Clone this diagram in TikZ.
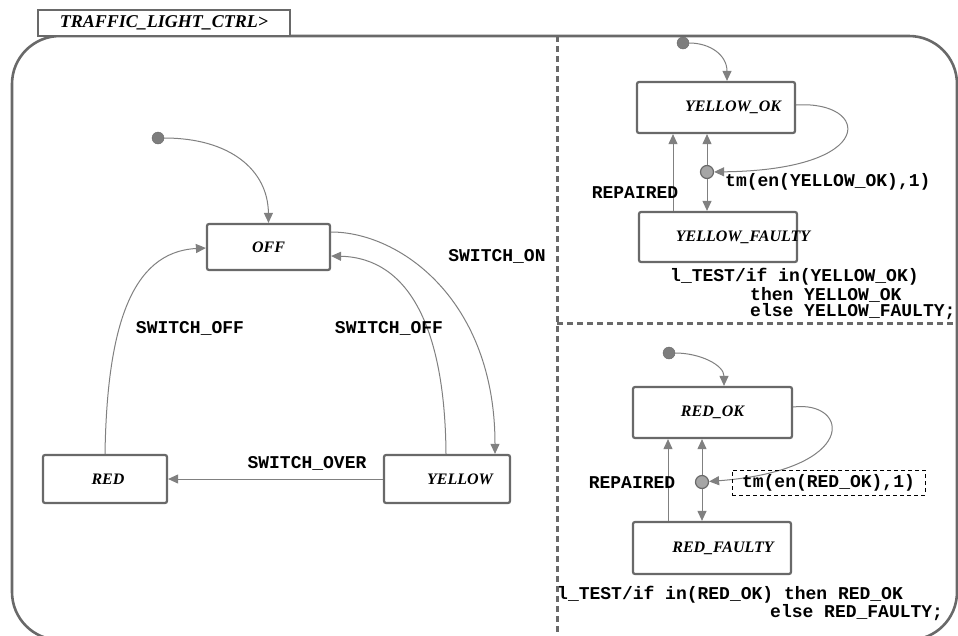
\documentclass[tikz,border=0pt]{standalone}
\usepackage{fontspec}
\usetikzlibrary{arrows.meta}
\newfontfamily\stfont{Liberation Serif}
\newfontfamily\lblfont{Liberation Mono}
\definecolor{framegray}{RGB}{105,105,105}
\definecolor{linegray}{RGB}{128,128,128}
\definecolor{dotgray}{RGB}{125,125,125}
\definecolor{condgray}{RGB}{165,165,165}
\begin{document}
\begin{tikzpicture}[x=1pt,y=-1pt,
  stbox/.style={draw=framegray, line width=2.2pt, rounded corners=2pt, fill=white, inner sep=0pt},
  sttext/.style={font=\stfont\bfseries\itshape\fontsize{16}{18}\selectfont, text=black, inner sep=0pt},
  lbl/.style={font=\lblfont\bfseries\fontsize{18}{20}\selectfont, text=black, inner sep=0pt},
  conn/.style={draw=linegray, line width=1pt, -{Triangle[length=10pt,width=9pt]}},
  initdot/.style={circle, fill=dotgray, draw=framegray, minimum size=12pt, inner sep=0pt},
  conddot/.style={circle, fill=condgray, draw=framegray, line width=1.2pt, minimum size=13pt, inner sep=0pt},
  sep/.style={draw=framegray, line width=3pt, dash pattern=on 6pt off 4pt},
]
\useasboundingbox (0,0) rectangle (958,635);
\clip (0,0) rectangle (958,635);
\fill[white] (0,0) rectangle (958,635);

% outer frame and separators
\draw[framegray, line width=2.6pt, rounded corners=48pt] (12,36) rectangle (957,640);
\draw[sep] (557,36) -- (557,640);
\draw[sep] (557,323) -- (958,323);

% tab
\node[draw=framegray, line width=2.2pt, fill=white, minimum width=252pt, minimum height=26pt, inner sep=0pt,
      font=\stfont\bfseries\itshape\fontsize{18}{20}\selectfont] (tab) at (164,23) {TRAFFIC\_LIGHT\_CTRL>};

% left states
\node[stbox, minimum width=123pt, minimum height=46pt, label={[sttext]center:OFF}] (off) at (268.5,247) {};
\node[stbox, minimum width=124pt, minimum height=48pt, label={[sttext,xshift=3pt]center:RED}] (red) at (105,479) {};
\node[stbox, minimum width=126pt, minimum height=48pt, label={[sttext,xshift=13pt]center:YELLOW}] (yel) at (447,479) {};

% right states
\node[stbox, minimum width=158pt, minimum height=51pt, label={[sttext,xshift=17pt]center:YELLOW\_OK}] (yok) at (716,107.5) {};
\node[stbox, minimum width=158pt, minimum height=50pt, label={[sttext,xshift=25pt]center:YELLOW\_FAULTY}] (yfa) at (718,237) {};
\node[stbox, minimum width=159pt, minimum height=51pt, label={[sttext]center:RED\_OK}] (rok) at (712.5,412.5) {};
\node[stbox, minimum width=158pt, minimum height=52pt, label={[sttext,xshift=11pt]center:RED\_FAULTY}] (rfa) at (712,548) {};

% pseudo states
\node[initdot] (i0) at (158,138) {};
\node[initdot] (i1) at (683,43) {};
\node[initdot] (i2) at (669,353) {};
\node[conddot] (yc) at (707,172) {};
\node[conddot] (rc) at (702,482) {};

% left transitions
\draw[conn] (i0) .. controls (230,138) and (268,170) .. (off.north);
\draw[conn] (red.north) .. controls (107,330) and (130,252) .. ([yshift=-1pt]off.west);
\draw[conn] ([xshift=-1pt]yel.north) .. controls (445,330) and (410,258) .. ([yshift=-9pt]off.east);
\draw[conn] ([yshift=15pt]off.east) .. controls (400,232) and (495,300) .. ([xshift=48pt]yel.north);
\draw[conn] (yel.west) -- (red.east);

% yellow region transitions
\draw[conn] (i1) .. controls (710,43) and (727,55) .. ([xshift=11pt]yok.north);
\draw[conn] (yc) -- ([xshift=-9pt]yok.south);
\draw[conn] (yc) -- ([xshift=-11pt]yfa.north);
\draw[conn] ([xshift=-45pt]yfa.north) -- ([xshift=-43pt]yok.south);
\draw[conn] ([yshift=2.5pt]yok.east) .. controls (870,100) and (880,170) .. (yc);

% red region transitions
\draw[conn] (i2) .. controls (700,353) and (724,365) .. ([xshift=11.5pt]rok.north);
\draw[conn] (rc) -- ([xshift=-10.5pt]rok.south);
\draw[conn] (rc) -- ([xshift=-10pt]rfa.north);
\draw[conn] ([xshift=-44pt]rfa.north) -- ([xshift=-44.5pt]rok.south);
\draw[conn] ([yshift=5.5pt]rok.east) .. controls (850,400) and (860,470) .. (rc);

% labels
\node[lbl] (lso1) at (190,328) {SWITCH\_OFF};
\node[lbl] (lso2) at (389,328) {SWITCH\_OFF};
\node[lbl] (lson) at (497,256) {SWITCH\_ON};
\node[lbl] (lsov) at (307,463) {SWITCH\_OVER};
\node[lbl] (lrep1) at (635,193) {REPAIRED};
\node[lbl, anchor=west] (ltm1) at (725,182) {tm(en(YELLOW\_OK),1)};
\node[lbl, anchor=west] (lt1a) at (670,277) {l\_TEST/if in(YELLOW\_OK)};
\node[lbl, anchor=west] (lt1b) at (750,295) {then YELLOW\_OK};
\node[lbl, anchor=west] (lt1c) at (750,312) {else YELLOW\_FAULTY;};
\node[lbl] (lrep2) at (632,483) {REPAIRED};
\node[lbl, draw=black, line width=0.8pt, dash pattern=on 4pt off 3pt, minimum width=193pt, minimum height=25pt] (ltm2) at (828.5,482.5) {tm(en(RED\_OK),1)};
\node[lbl, anchor=west] (lt2a) at (557,595) {l\_TEST/if in(RED\_OK) then RED\_OK};
\node[lbl, anchor=west] (lt2b) at (770,613) {else RED\_FAULTY;};
\end{tikzpicture}
\end{document}
